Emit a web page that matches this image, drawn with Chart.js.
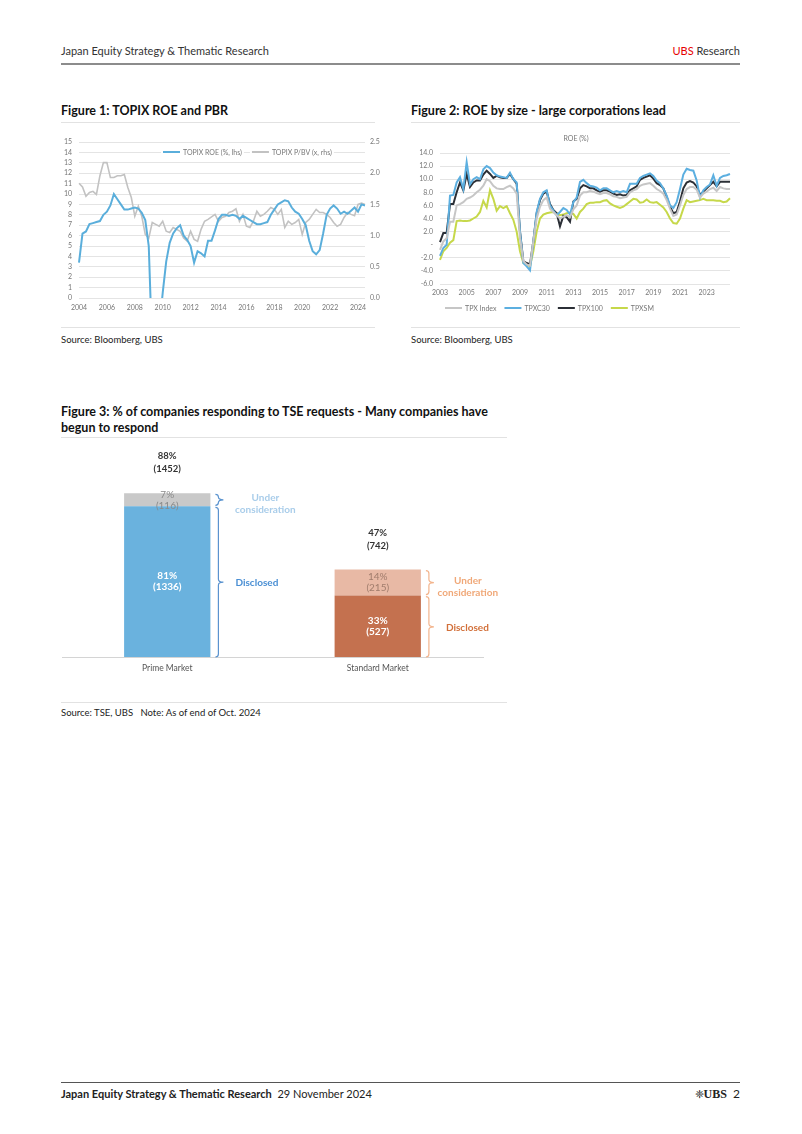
<!DOCTYPE html>
<html>
<head>
<meta charset="utf-8">
<script src="https://cdn.jsdelivr.net/npm/chart.js@4.4.1/dist/chart.umd.min.js"></script>
<style>
body { margin: 0; width: 802px; height: 1134px; background: #fff; font-family: Lato, "Open Sans", sans-serif; color: #222; position: relative; overflow: hidden; }
.abs { position: absolute; }
.rule { position: absolute; height: 1px; background: #e2e2e2; }
.ftitle { position: absolute; font-weight: bold; font-size: 12.5px; color: #111; line-height: 16px; }
.src { position: absolute; font-size: 9.5px; color: #222; }
canvas { position: absolute; }
</style>
</head>
<body>
<div class="abs" style="left:61px;top:44px;font-size:11px;color:#333">Japan Equity Strategy &amp; Thematic Research</div>
<div class="abs" style="right:62px;top:44px;font-size:11px;color:#333"><span style="color:#e60000">UBS</span> Research</div>
<div class="abs" style="left:61px;top:63px;width:679px;height:2px;background:#8c8c8c"></div>

<div class="ftitle" style="left:61px;top:103px">Figure 1: TOPIX ROE and PBR</div>
<div class="rule" style="left:61px;top:122px;width:314px"></div>
<div class="ftitle" style="left:411px;top:103px">Figure 2: ROE by size - large corporations lead</div>
<div class="rule" style="left:411px;top:122px;width:329px"></div>

<canvas id="fig1" width="335" height="188" style="left:55px;top:130px"></canvas>
<canvas id="fig2" width="340" height="192" style="left:405px;top:128px"></canvas>

<div class="rule" style="left:61px;top:327px;width:314px"></div>
<div class="src" style="left:61px;top:334px">Source: Bloomberg, UBS</div>
<div class="rule" style="left:411px;top:327px;width:329px"></div>
<div class="src" style="left:411px;top:334px">Source: Bloomberg, UBS</div>

<div class="ftitle" style="left:61px;top:404px">Figure 3: % of companies responding to TSE requests - Many companies have<br>begun to respond</div>
<div class="rule" style="left:61px;top:437px;width:446px"></div>

<canvas id="fig3" width="446" height="240" style="left:61px;top:445px"></canvas>

<div class="rule" style="left:61px;top:702px;width:446px"></div>
<div class="src" style="left:61px;top:707px">Source: TSE, UBS&nbsp;&nbsp; Note: As of end of Oct. 2024</div>

<div class="abs" style="left:61px;top:1082px;width:679px;height:1px;background:#555"></div>
<div class="abs" style="left:61px;top:1087px;font-size:11px;color:#222"><b>Japan Equity Strategy &amp; Thematic Research</b>&nbsp; 29 November 2024</div>
<div class="abs" style="right:62px;top:1086px;font-size:12px;color:#222"><span style="font-size:11px">&#10056;</span><span style="font-family:'Liberation Serif',serif;font-weight:bold">UBS</span>&nbsp; 2</div>

<script>
// Figure 1: TOPIX ROE (%) and P/BV (x), quarterly from 2004Q1
const fig1TickYears = [2004, 2006, 2008, 2010, 2012, 2014, 2016, 2018, 2020, 2022, 2024];
const topixRoe = [
  3.4, 6.2, 6.4, 7.1,  7.2, 7.3, 7.4, 8.0,  8.3, 8.9, 10.0, 9.5,  9.0, 8.5, 8.5, 8.6,
  8.7, 8.6, 8.2, 7.5,  5.0, -5.0, -6.0, -3.0,  0.5, 3.5, 5.3, 6.2,  6.7, 7.0, 6.0, 5.6,
  5.0, 3.4, 4.5, 4.3,  4.0, 5.5, 5.5, 6.5,  7.6, 8.0, 8.0, 7.9,  8.0, 7.9, 7.6, 7.9,
  7.7, 7.5, 7.3, 7.1,  7.1, 7.2, 7.3, 8.0,  8.5, 9.0, 9.2, 9.4,  9.3, 8.7, 8.3, 8.1,
  7.6, 7.0, 5.5, 4.5,  4.2, 4.6, 6.2, 8.0,  8.6, 8.9, 8.6, 8.1,  8.3, 8.1, 8.4, 8.7,
  8.3, 9.0, 8.9
];
const topixPbv = [
  1.84, 1.78, 1.63, 1.69,  1.71, 1.66, 1.96, 2.17,  2.17, 1.93, 1.93, 1.96,  1.96, 1.98, 1.77, 1.61,
  1.31, 1.47, 1.31, 1.02,  0.96, 1.21, 1.18, 1.15,  1.23, 1.07, 1.05, 1.13,  1.10, 1.07, 0.96, 0.91,
  1.07, 0.94, 0.91, 1.10,  1.23, 1.26, 1.30, 1.34,  1.23, 1.29, 1.31, 1.37,  1.39, 1.43, 1.23, 1.34,
  1.15, 1.13, 1.23, 1.39,  1.31, 1.34, 1.39, 1.45,  1.42, 1.34, 1.42, 1.13,  1.23, 1.18, 1.21, 1.26,
  1.02, 1.21, 1.26, 1.34,  1.42, 1.37, 1.37, 1.34,  1.29, 1.21, 1.15, 1.18,  1.29, 1.37, 1.34, 1.32,
  1.50, 1.52, 1.50
];

// Figure 2: ROE (%) by size, quarterly from 2003Q1
const fig2TickYears = [2003, 2005, 2007, 2009, 2011, 2013, 2015, 2017, 2019, 2021, 2023];
const tpxIndex = [
  -0.8, 0.5, 1.0, 3.5,  3.5, 6.0, 6.2, 6.5,  7.0, 7.2, 7.5, 8.0,  8.4, 9.0, 10.0, 9.7,
  9.0, 8.6, 8.5, 8.5,  8.8, 9.0, 8.6, 7.8,  1.0, -2.5, -3.0, -3.2,  0.5, 4.0, 5.8, 6.8,
  7.2, 5.5, 5.0, 4.5,  4.0, 4.3, 4.5, 4.2,  5.4, 6.0, 7.5, 8.0,  8.0, 8.2, 8.1, 7.9,
  7.7, 7.9, 7.9, 7.7,  7.4, 7.3, 7.1, 7.2,  7.3, 8.0, 8.3, 8.5,  9.0, 9.2, 9.3, 9.4,
  9.0, 8.5, 8.2, 7.8,  6.8, 5.5, 4.4, 4.6,  6.0, 7.6, 8.5, 8.8,  8.8, 8.4, 7.2, 7.8,
  8.1, 8.5, 8.7, 8.2,  8.8, 8.6, 8.5, 8.5
];
const tpxC30 = [
  -1.7, -0.5, 0.0, 7.5,  7.6, 9.5, 10.3, 8.5,  12.6, 9.2, 10.0, 10.3,  10.0, 11.5, 12.0, 11.7,
  11.0, 10.6, 10.4, 10.3,  10.2, 11.0, 10.0, 9.5,  2.0, -2.8, -3.3, -3.9,  0.5, 5.0, 7.0, 8.0,
  8.3, 6.0, 5.2, 4.5,  5.0, 5.6, 5.3, 4.6,  6.5, 7.2, 9.6, 9.9,  9.4, 9.0, 8.9, 8.7,
  8.3, 8.6, 8.6, 8.3,  8.0, 8.2, 8.0, 8.2,  8.0, 9.3, 9.3, 9.3,  10.2, 10.5, 10.7, 10.9,
  10.5, 9.8, 9.4, 8.6,  7.5, 6.0, 5.6, 6.5,  8.5, 10.7, 11.6, 11.4,  11.3, 9.8, 7.2, 8.3,
  8.8, 9.2, 10.6, 9.0,  10.2, 10.5, 10.6, 10.8
];
const tpx100 = [
  0.4, 1.8, 1.8, 6.2,  6.2, 8.0, 9.5, 8.3,  10.8, 8.8, 9.5, 9.8,  9.8, 10.7, 11.3, 10.8,
  10.2, 10.5, 10.3, 10.2,  10.2, 10.8, 10.0, 9.3,  2.0, -2.5, -2.8, -3.0,  0.5, 4.8, 6.8, 7.8,
  8.1, 6.2, 5.3, 4.8,  2.8, 4.4, 4.2, 3.5,  6.6, 7.0, 8.6, 9.1,  8.9, 8.6, 8.6, 8.3,
  8.1, 8.3, 8.3, 8.1,  7.8, 7.6, 7.7, 7.5,  7.6, 8.3, 8.6, 8.9,  9.9, 10.2, 10.4, 10.6,
  10.1, 9.4, 9.1, 8.6,  7.3, 5.8, 4.8, 5.0,  6.6, 8.6, 9.5, 9.7,  9.5, 8.9, 7.6, 8.1,
  8.6, 9.1, 9.6, 8.9,  9.6, 9.6, 9.6, 9.6
];
const tpxSm = [
  -2.3, -1.0, -0.5, 0.3,  0.7, 3.6, 3.7, 3.6,  3.6, 3.7, 4.0, 4.3,  5.0, 6.7, 5.7, 8.3,
  7.0, 5.2, 5.9, 5.6,  5.9, 4.8, 3.8, 2.0,  -1.0, -2.8, -3.0, -3.3,  -1.0, 2.0, 4.0, 4.6,
  4.8, 4.9, 5.0, 4.8,  4.5, 4.6, 4.8, 4.9,  4.7, 4.0, 5.0, 5.5,  6.2, 6.4, 6.4, 6.5,
  6.5, 6.7, 6.8, 6.3,  6.0, 5.8, 5.6, 5.8,  6.2, 6.6, 7.0, 6.9,  6.4, 6.5, 6.9, 6.5,
  6.4, 6.5, 6.1, 5.7,  5.0, 4.0, 3.3, 3.2,  4.0, 5.5, 6.8, 6.5,  6.6, 6.7, 6.8, 7.0,
  6.8, 6.8, 6.8, 6.7,  6.7, 6.5, 6.6, 7.1
];

// Figure 3: companies responding to TSE requests
const markets = ['Prime Market', 'Standard Market'];
const disclosedPct = [81, 33];
const disclosedCount = [1336, 527];
const underPct = [7, 14];
const underCount = [116, 215];
const totalPct = [88, 47];
const totalCount = [1452, 742];

Chart.defaults.font.family = 'Lato, sans-serif';
Chart.defaults.color = '#777';
Chart.defaults.animation = false;

function quarterLabels(startYear, count) {
  const out = [];
  for (let i = 0; i < count; i++) out.push((startYear + Math.floor(i / 4)) + 'Q' + (i % 4 + 1));
  return out;
}

function yearTick(ticks) {
  return function (value) {
    const lbl = this.getLabelForValue(value);
    const yr = parseInt(lbl, 10);
    return lbl.endsWith('Q1') && ticks.includes(yr) ? String(yr) : '';
  };
}

// small line-swatch legend drawn at a spot in the chart
const lineLegend = {
  id: 'lineLegend',
  afterDraw(chart, args, opts) {
    if (!opts.show) return;
    const ctx = chart.ctx;
    const a = chart.chartArea;
    let x = a.left + opts.dx;
    const y = (opts.from === 'bottom' ? a.bottom : a.top) + opts.dy;
    ctx.save();
    ctx.font = '7px Lato';
    ctx.textBaseline = 'middle';
    chart.data.datasets.forEach(ds => {
      const w = ctx.measureText(ds.label).width;
      if (opts.clear) {
        ctx.fillStyle = '#fff';
        ctx.fillRect(x - 2, y - 5, opts.swatch + 3 + w + 4, 10);
      }
      ctx.strokeStyle = ds.borderColor;
      ctx.lineWidth = 2;
      ctx.beginPath();
      ctx.moveTo(x, y);
      ctx.lineTo(x + opts.swatch, y);
      ctx.stroke();
      ctx.fillStyle = '#777';
      ctx.fillText(ds.label, x + opts.swatch + 3, y + 0.5);
      x += opts.swatch + 3 + w + opts.gap;
    });
    if (opts.title) {
      ctx.textAlign = 'center';
      ctx.fillText(opts.title, (a.left + a.right) / 2 - 9, a.top - 14);
    }
    ctx.restore();
  }
};

new Chart(document.getElementById('fig1'), {
  type: 'line',
  data: {
    labels: quarterLabels(2004, topixRoe.length),
    datasets: [
      { label: 'TOPIX ROE (%, lhs)', data: topixRoe, borderColor: '#5aaedb', borderWidth: 2, pointRadius: 0, tension: 0, yAxisID: 'y' },
      { label: 'TOPIX P/BV (x, rhs)', data: topixPbv, borderColor: '#c2c2c2', borderWidth: 1.6, pointRadius: 0, tension: 0, yAxisID: 'y1' }
    ]
  },
  options: {
    responsive: false,
    layout: { padding: { top: 12, left: 0, right: 0, bottom: 0 } },
    plugins: {
      legend: { display: false },
      tooltip: { enabled: false },
      lineLegend: { show: true, dx: 84, dy: 10, swatch: 17, gap: 10, clear: true }
    },
    scales: {
      x: {
        grid: { display: false, drawTicks: false },
        border: { display: false },
        ticks: { autoSkip: false, maxRotation: 0, padding: 6, font: { size: 7 }, callback: yearTick(fig1TickYears) },
        afterFit: s => { s.height = 20; }
      },
      y: {
        position: 'left', min: 0, max: 15,
        grid: { color: '#e4e4e4', drawTicks: false },
        border: { display: false },
        ticks: { stepSize: 1, autoSkip: false, padding: 7, font: { size: 7 } },
        afterFit: s => { s.width = 24; }
      },
      y1: {
        position: 'right', min: 0, max: 2.5,
        grid: { display: false, drawTicks: false },
        border: { display: false },
        ticks: { stepSize: 0.5, autoSkip: false, padding: 5, font: { size: 7 }, callback: v => v.toFixed(1) },
        afterFit: s => { s.width = 25; }
      }
    }
  },
  plugins: [lineLegend]
});

new Chart(document.getElementById('fig2'), {
  type: 'line',
  data: {
    labels: quarterLabels(2003, tpxIndex.length),
    datasets: [
      { label: 'TPX Index', data: tpxIndex, borderColor: '#c6c6c6', borderWidth: 2, pointRadius: 0 },
      { label: 'TPXC30', data: tpxC30, borderColor: '#5cafe0', borderWidth: 2, pointRadius: 0 },
      { label: 'TPX100', data: tpx100, borderColor: '#2b2f36', borderWidth: 2, pointRadius: 0 },
      { label: 'TPXSM', data: tpxSm, borderColor: '#c6d84a', borderWidth: 2, pointRadius: 0 }
    ]
  },
  options: {
    responsive: false,
    layout: { padding: { top: 25, left: 0, right: 15, bottom: 0 } },
    plugins: {
      legend: { display: false },
      tooltip: { enabled: false },
      lineLegend: { show: true, from: 'bottom', dx: 5, dy: 24, swatch: 17, gap: 8, title: 'ROE (%)' }
    },
    scales: {
      x: {
        grid: { display: false, drawTicks: false },
        border: { display: false },
        ticks: { autoSkip: false, maxRotation: 0, padding: 5, font: { size: 7 }, callback: yearTick(fig2TickYears) },
        afterFit: s => { s.height = 36; }
      },
      y: {
        min: -6, max: 14,
        grid: { color: '#e4e4e4', drawTicks: false },
        border: { display: false },
        ticks: { stepSize: 2, autoSkip: false, padding: 7, font: { size: 7 }, callback: v => v === 0 ? '-' : v.toFixed(1) },
        afterFit: s => { s.width = 35; }
      }
    }
  },
  plugins: [lineLegend]
});

function drawBrace(ctx, x, top, bottom, tip, color) {
  const mid = (top + bottom) / 2;
  const r = Math.min(3, (bottom - top) / 4);
  const vx = x + 3;
  ctx.strokeStyle = color;
  ctx.lineWidth = 1.2;
  ctx.beginPath();
  ctx.moveTo(x, top);
  ctx.quadraticCurveTo(vx, top, vx, top + r);
  ctx.lineTo(vx, mid - r);
  ctx.quadraticCurveTo(vx, mid, vx + tip, mid);
  ctx.quadraticCurveTo(vx, mid, vx, mid + r);
  ctx.lineTo(vx, bottom - r);
  ctx.quadraticCurveTo(vx, bottom, x, bottom);
  ctx.stroke();
}

const barNotes = {
  id: 'barNotes',
  afterDatasetsDraw(chart, args, opts) {
    const ctx = chart.ctx;
    const low = chart.getDatasetMeta(0).data;
    const high = chart.getDatasetMeta(1).data;
    ctx.save();
    ctx.textAlign = 'center';
    ctx.textBaseline = 'middle';
    low.forEach((bar, i) => {
      const hi = high[i];
      const right = bar.x + bar.width / 2;
      const mLow = (bar.y + bar.base) / 2;
      const mHi = (hi.y + hi.base) / 2;
      // inside the bars
      ctx.fillStyle = '#fff';
      ctx.font = 'bold 10px Lato';
      ctx.fillText(disclosedPct[i] + '%', bar.x, mLow - 5.5);
      ctx.fillText('(' + disclosedCount[i] + ')', bar.x, mLow + 5.5);
      ctx.fillStyle = opts.underInk[i];
      ctx.font = '10px Lato';
      ctx.fillText(underPct[i] + '%', bar.x, mHi - 5.5);
      ctx.fillText('(' + underCount[i] + ')', bar.x, mHi + 5.5);
      // totals above
      ctx.fillStyle = '#333';
      ctx.font = 'bold 9.5px Lato';
      ctx.fillText(totalPct[i] + '%', bar.x, hi.y - 37);
      ctx.fillText('(' + totalCount[i] + ')', bar.x, hi.y - 24);
      // braces and notes
      drawBrace(ctx, right + 5, hi.y + 1, hi.base - 1, 5, opts.brace[i]);
      drawBrace(ctx, right + 5, bar.y + 1, bar.base, 5, opts.brace[i]);
      ctx.font = 'bold 10px Lato';
      ctx.fillStyle = opts.underNote[i];
      ctx.fillText('Under', right + opts.noteDx[i], mHi - 2);
      ctx.fillText('consideration', right + opts.noteDx[i], mHi + 10);
      ctx.fillStyle = opts.disclosedNote[i];
      ctx.textAlign = 'left';
      ctx.fillText('Disclosed', right + 25, mLow + 1);
      ctx.textAlign = 'center';
    });
    ctx.restore();
  }
};

new Chart(document.getElementById('fig3'), {
  type: 'bar',
  data: {
    labels: markets,
    datasets: [
      { label: 'Disclosed', data: disclosedPct, backgroundColor: ['#6ab2de', '#c4714f'] },
      { label: 'Under consideration', data: underPct, backgroundColor: ['#c9c9c9', '#e8b9a5'] }
    ]
  },
  options: {
    responsive: false,
    layout: { padding: { top: 26, left: 1, right: 24, bottom: 0 } },
    datasets: { bar: { categoryPercentage: 1, barPercentage: 0.41 } },
    plugins: {
      legend: { display: false },
      tooltip: { enabled: false },
      barNotes: {
        underInk: ['#8a8a8a', '#a07c6c'],
        brace: ['#5a93cf', '#f3b48c'],
        underNote: ['#a9cdea', '#f0a878'],
        disclosedNote: ['#4a8fd4', '#d2703a'],
        noteDx: [55, 47]
      }
    },
    scales: {
      x: {
        stacked: true,
        grid: { display: false, drawTicks: false },
        border: { display: true, color: '#d4d4d4' },
        ticks: { padding: 6, color: '#555', font: { size: 8.5 } },
        afterFit: s => { s.height = 28; }
      },
      y: {
        stacked: true, display: false, min: 0, max: 100
      }
    }
  },
  plugins: [barNotes]
});
</script>
</body>
</html>
